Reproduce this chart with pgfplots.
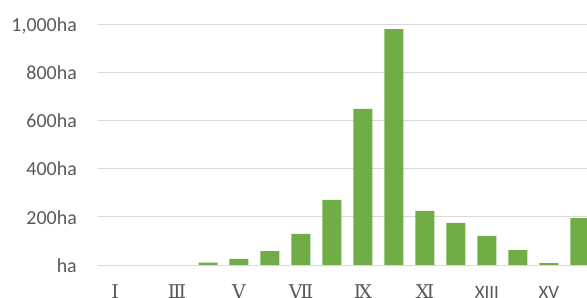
\documentclass[border=0pt]{standalone}
\usepackage{fontspec}
\setmainfont{Carlito}
\newfontfamily\romfont{DejaVu Serif}
\usepackage{pgfplots}
\pgfplotsset{compat=1.18}
\definecolor{barg}{HTML}{70AD47}
\definecolor{lab}{HTML}{595959}
\definecolor{gridc}{HTML}{D9D9D9}
\begin{document}
\begin{tikzpicture}
\begin{axis}[
  at={(98bp,33bp)}, anchor=south west,
  scale only axis, width=489bp, height=240bp,
  xmin=0.45, xmax=16.23, ymin=0, ymax=1000,
  axis line style={draw=none}, tick style={draw=none},
  ymajorgrids, grid style={gridc, line width=1bp},
  ytick={0,200,400,600,800,1000},
  yticklabels={ha,200ha,400ha,600ha,800ha,{1,000ha}},
  xtick={1,3,5,7,9,11,13,15},
  xticklabels={{\romfont Ⅰ},{\romfont Ⅲ},{\romfont Ⅴ},{\romfont Ⅶ},{\romfont Ⅸ},{\romfont Ⅺ},XIII,XV},
  yticklabel style={font=\fontsize{20}{20}\selectfont, text=lab, anchor=base east, inner sep=0pt, xshift=-21bp, yshift=-7bp},
  xticklabel style={font=\fontsize{19}{19}\selectfont, text=lab, anchor=base, inner sep=0pt, yshift=-29bp},
  ybar, bar width=19bp,
]
\addplot[fill=barg, draw=none] coordinates {
(1,0) (2,0) (3,0) (4,10) (5,26) (6,58) (7,130) (8,271) (9,650) (10,983) (11,226) (12,175) (13,121) (14,62) (15,8) (16,195)
};
\end{axis}
\pgfresetboundingbox
\path[use as bounding box] (0,0) rectangle (587bp,298bp);
\end{tikzpicture}
\end{document}
